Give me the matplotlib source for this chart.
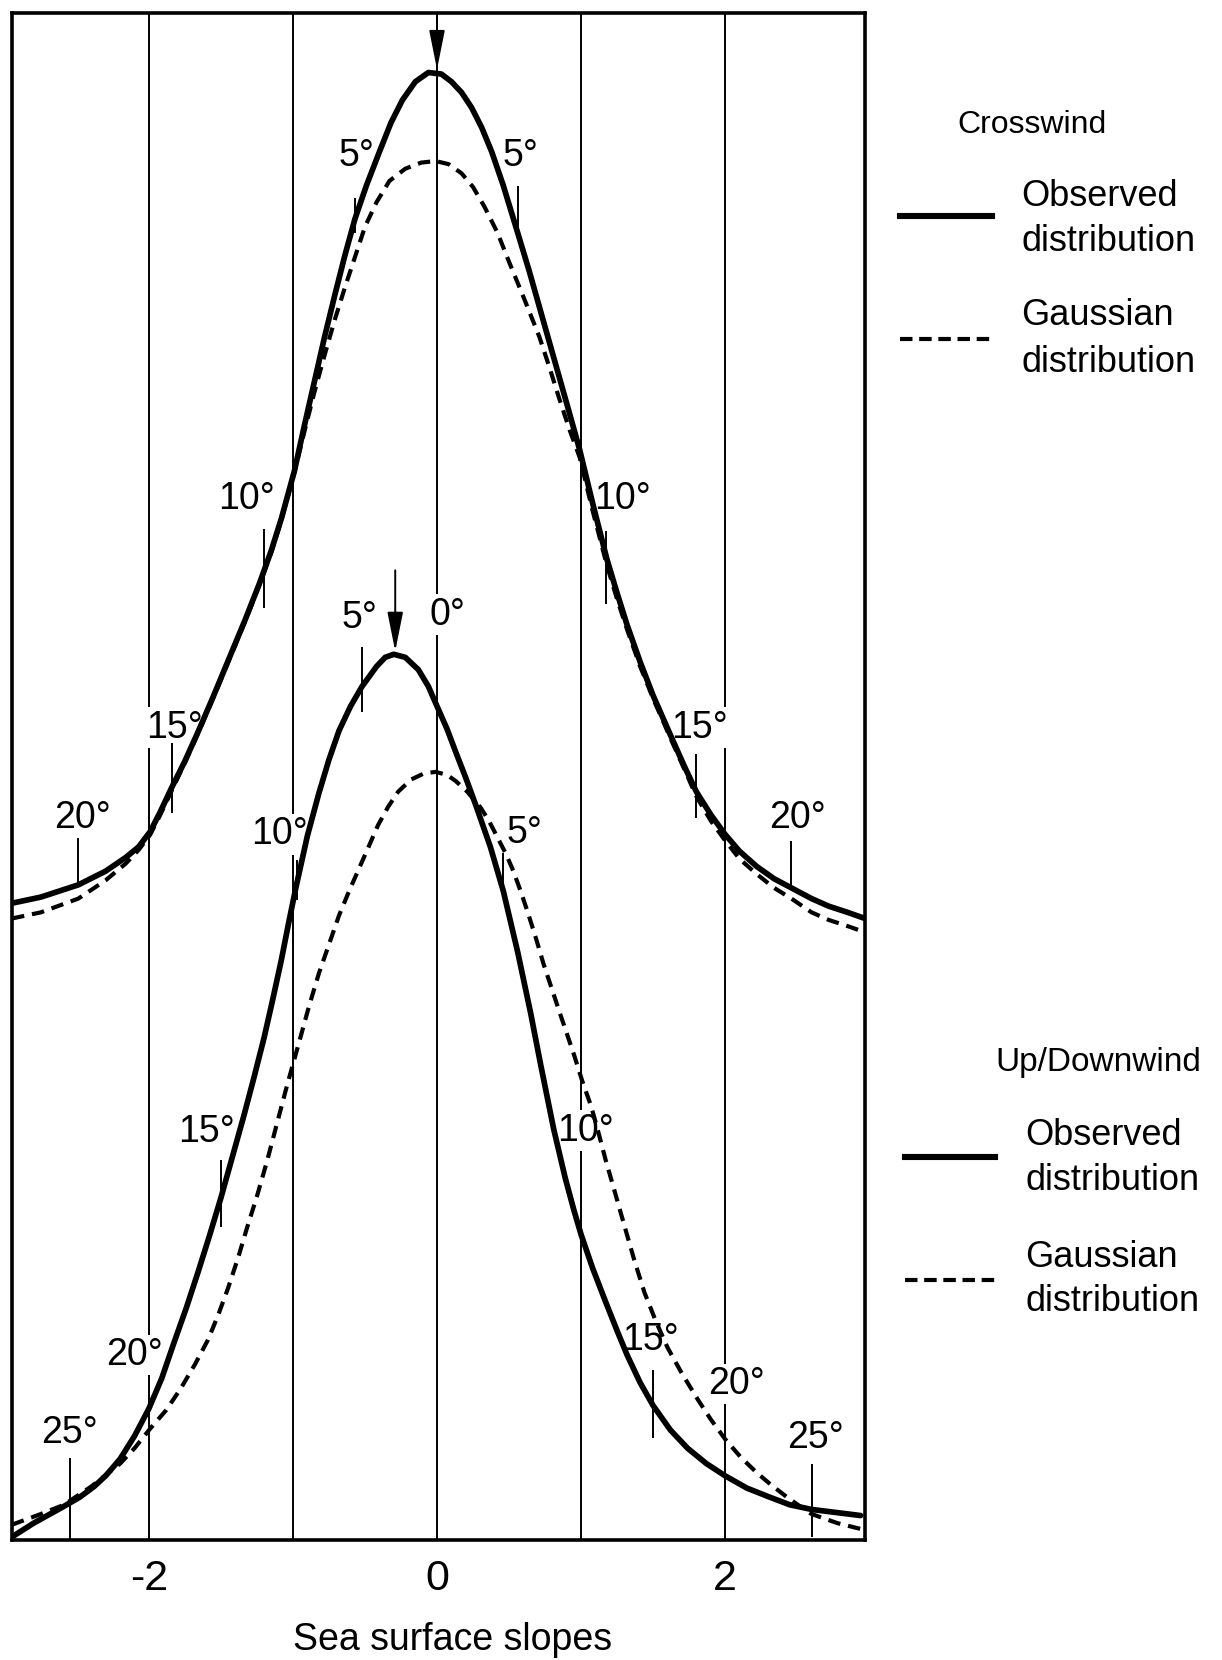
import matplotlib
matplotlib.use("Agg")
import matplotlib.pyplot as plt
from matplotlib.lines import Line2D

plt.rcParams['font.family'] = ['Liberation Sans', 'DejaVu Sans']

# values: x = sea surface slope, y = relative height (0-100)
cw_obs_x = [-2.95, -2.75, -2.49, -2.30, -2.16, -2.07, -1.99, -1.92, -1.84, -1.75, -1.65, -1.55,
            -1.44, -1.33, -1.23, -1.15, -1.08, -0.99, -0.92, -0.85, -0.78, -0.71, -0.64, -0.57,
            -0.49, -0.40, -0.32, -0.24, -0.15, -0.06, 0.03, 0.10, 0.17, 0.24, 0.31, 0.38, 0.46,
            0.56, 0.64, 0.73, 0.82, 0.91, 0.99, 1.08, 1.18, 1.25, 1.32, 1.41, 1.50, 1.63, 1.72,
            1.80, 1.90, 2.00, 2.10, 2.22, 2.34, 2.46, 2.60, 2.72, 2.85, 2.97]
cw_obs_y = [41.7, 42.1, 42.9, 43.8, 44.7, 45.4, 46.4, 47.7, 49.3, 51.0, 53.1, 55.3,
            57.8, 60.3, 62.7, 64.8, 66.9, 70.0, 73.0, 75.9, 78.8, 81.5, 84.1, 86.5,
            88.7, 90.9, 92.8, 94.3, 95.5, 96.1, 96.0, 95.5, 94.8, 93.8, 92.5, 90.9, 88.7,
            85.6, 83.1, 80.1, 77.1, 74.1, 71.4, 67.9, 64.2, 62.0, 59.9, 57.5, 55.3, 52.5, 50.6,
            49.0, 47.5, 46.2, 45.1, 44.1, 43.3, 42.7, 42.0, 41.5, 41.1, 40.7]

cw_gauss_x = [-2.95, -2.75, -2.49, -2.30, -2.16, -2.07, -1.99, -1.92, -1.84, -1.75, -1.65, -1.55,
              -1.44, -1.33, -1.23, -1.15, -1.08, -0.99, -0.92, -0.85, -0.78, -0.71, -0.64, -0.57,
              -0.50, -0.42, -0.33, -0.22, -0.11, -0.01, 0.08, 0.17, 0.25, 0.33, 0.42, 0.50, 0.60,
              0.71, 0.78, 0.85, 0.92, 0.99, 1.08, 1.18, 1.25, 1.32, 1.41, 1.50, 1.63, 1.72, 1.80,
              1.90, 2.00, 2.10, 2.22, 2.34, 2.46, 2.60, 2.72, 2.85, 2.97]
cw_gauss_y = [40.7, 41.1, 42.0, 43.2, 44.3, 45.2, 46.2, 47.5, 49.1, 50.9, 53.0, 55.2,
              57.7, 60.2, 62.6, 64.7, 66.8, 69.9, 72.6, 75.2, 77.6, 79.9, 82.0, 84.0,
              86.0, 87.6, 89.0, 89.8, 90.2, 90.3, 90.1, 89.5, 88.6, 87.3, 85.6, 83.7, 81.4,
              78.8, 76.8, 74.7, 72.7, 70.9, 67.4, 63.8, 61.6, 59.6, 57.2, 55.1, 52.3, 50.4, 48.7,
              47.1, 45.8, 44.6, 43.6, 42.7, 42.0, 41.1, 40.6, 40.2, 39.8]

uw_obs_x = [-2.95, -2.80, -2.59, -2.48, -2.38, -2.30, -2.20, -2.10, -2.00, -1.91, -1.83, -1.74,
            -1.66, -1.58, -1.50, -1.42, -1.34, -1.27, -1.20, -1.14, -1.08, -1.03, -0.98, -0.90,
            -0.82, -0.75, -0.68, -0.60, -0.52, -0.42, -0.36, -0.30, -0.22, -0.13, -0.06, 0.00,
            0.07, 0.13, 0.20, 0.27, 0.37, 0.46, 0.56, 0.65, 0.72, 0.81, 0.89, 0.95, 1.00, 1.08,
            1.17, 1.25, 1.32, 1.41, 1.50, 1.62, 1.74, 1.87, 2.00, 2.15, 2.31, 2.45, 2.60, 2.77,
            2.94]
uw_obs_y = [0.2, 1.1, 2.2, 2.8, 3.5, 4.2, 5.3, 6.8, 8.6, 10.6, 12.8, 15.2,
            17.5, 19.9, 22.4, 25.1, 27.8, 30.3, 32.9, 35.4, 38.0, 40.4, 42.7, 46.1,
            48.9, 51.1, 53.0, 54.6, 55.9, 57.2, 57.8, 58.0, 57.8, 57.0, 55.9, 54.6,
            53.1, 51.6, 49.9, 48.1, 45.4, 42.5, 38.5, 34.5, 31.1, 26.9, 23.7, 21.6, 20.0, 17.8,
            15.6, 13.7, 12.1, 10.3, 8.8, 7.2, 6.0, 5.0, 4.2, 3.4, 2.8, 2.3, 2.0, 1.8,
            1.6]

uw_gauss_x = [-2.95, -2.75, -2.59, -2.40, -2.20, -2.10, -1.99, -1.88, -1.78, -1.68, -1.59, -1.52,
              -1.45, -1.38, -1.32, -1.25, -1.18, -1.11, -1.04, -0.96, -0.89, -0.82, -0.75, -0.68,
              -0.61, -0.54, -0.47, -0.41, -0.34, -0.27, -0.18, -0.09, -0.01, 0.07, 0.13, 0.21,
              0.30, 0.36, 0.42, 0.48, 0.53, 0.58, 0.63, 0.69, 0.74, 0.80, 0.86, 0.95, 1.01, 1.07,
              1.12, 1.17, 1.24, 1.30, 1.37, 1.44, 1.52, 1.60, 1.70, 1.81, 1.90, 2.00, 2.11, 2.22,
              2.32, 2.43, 2.52, 2.60, 2.78, 2.95]
uw_gauss_y = [1.0, 1.7, 2.3, 3.5, 5.0, 6.0, 7.3, 8.5, 9.9, 11.5, 13.1, 14.7,
              16.5, 18.5, 20.4, 22.5, 24.8, 27.3, 29.8, 32.5, 34.9, 37.1, 39.0, 40.9,
              42.5, 44.0, 45.5, 46.8, 48.0, 49.0, 49.8, 50.2, 50.3, 50.1, 49.7, 49.0,
              48.0, 47.1, 46.0, 44.9, 43.8, 42.5, 41.1, 39.3, 37.7, 36.0, 34.3, 31.8, 30.0, 28.4,
              26.7, 24.9, 22.6, 20.6, 18.3, 16.2, 14.3, 12.6, 10.9, 9.2, 7.9, 6.6, 5.4, 4.4,
              3.6, 2.8, 2.2, 1.7, 1.1, 0.7]

# slope-angle markers
cw_deg = ['5°', '5°', '10°', '10°', '15°', '15°', '20°', '20°']
cw_deg_x = [-0.56, 0.58, -1.32, 1.29, -1.82, 1.82, -2.46, 2.50]
cw_deg_y = [90.6, 90.6, 68.2, 68.2, 53.2, 53.2, 47.3, 47.3]
cw_tick_x = [-0.57, 0.56, -1.20, 1.17, -1.84, 1.80, -2.49, 2.46]
cw_tick_lo = [85.6, 85.1, 61.0, 61.3, 47.6, 47.3, 42.8, 42.8]
cw_tick_hi = [87.9, 88.7, 66.2, 66.1, 52.2, 51.5, 46.0, 45.8]

uw_deg = ['5°', '0°', '10°', '5°', '15°', '10°', '20°', '15°', '25°', '20°', '25°']
uw_deg_x = [-0.54, 0.07, -1.09, 0.61, -1.60, 1.03, -2.10, 1.48, -2.55, 2.08, 2.63]
uw_deg_y = [60.4, 60.6, 46.2, 46.3, 26.7, 26.8, 12.1, 13.1, 7.0, 10.2, 6.7]
uw_tick_x = [-0.52, -0.97, 0.46, -1.50, 1.50, -2.55, 2.60]
uw_tick_lo = [54.2, 41.9, 42.4, 20.5, 6.7, 0.0, 0.2]
uw_tick_hi = [58.5, 44.5, 45.0, 24.9, 11.1, 5.4, 5.0]

# peak arrows (x, from y, to y)
arrows = [(0.0, 100.0, 96.3), (-0.29, 63.5, 58.2)]

grid_x = [-2, -1, 0, 1, 2]
tick_pos = [-2, 0, 2]
tick_lab = ['-2', '0', '2']

fig = plt.figure(figsize=(12.22, 16.6), dpi=100)
ax = fig.add_axes([0.0098, 0.0723, 0.698, 0.9199])

for gx in grid_x:
    ax.axvline(gx, color='black', lw=1.4, zorder=1)

solid = dict(color='black', lw=4.1, zorder=3, solid_joinstyle='round', solid_capstyle='round')
dashed = dict(color='black', lw=3.0, zorder=3, ls=(0, (3.0, 1.9)))
ax.plot(cw_obs_x, cw_obs_y, **solid)
ax.plot(cw_gauss_x, cw_gauss_y, **dashed)
ax.plot(uw_obs_x, uw_obs_y, **solid)
ax.plot(uw_gauss_x, uw_gauss_y, **dashed)

box = dict(facecolor='white', edgecolor='none', pad=1.5)
for lab, x, y in zip(cw_deg + uw_deg, cw_deg_x + uw_deg_x, cw_deg_y + uw_deg_y):
    ax.text(x, y, lab, ha='center', va='center', fontsize=27, zorder=2, bbox=box)

ax.vlines(cw_tick_x + uw_tick_x, cw_tick_lo + uw_tick_lo, cw_tick_hi + uw_tick_hi,
          color='black', lw=1.4, zorder=3)

for x, y0, y1 in arrows:
    ax.annotate('', xy=(x, y1), xytext=(x, y0),
                arrowprops=dict(arrowstyle='-|>,head_length=1.1,head_width=0.22', color='black',
                                lw=1.4, shrinkA=0, shrinkB=0, mutation_scale=22), zorder=4)

ax.set_xlim(-2.95, 2.97)
ax.set_ylim(0, 100)
ax.set_yticks([])
ax.set_xticks(tick_pos)
ax.set_xticklabels(tick_lab, fontsize=31)
ax.tick_params(axis='x', length=0, pad=14)
for sp in ax.spines.values():
    sp.set_linewidth(2.6)
ax.set_xlabel('Sea surface slopes', fontsize=27)
ax.xaxis.set_label_coords(0.516, -0.054)

# legend blocks drawn in figure coordinates
fig.text(0.8445, 0.9247, 'Crosswind', ha='center', va='center', fontsize=23)
fig.text(0.8985, 0.3602, 'Up/Downwind', ha='center', va='center', fontsize=24)
legend_rows = [
    (0.7365, 0.8118, 0.8699, '-', 0.836, 0.8819, 0.8548, 'Observed'),
    (0.7365, 0.8142, 0.7958, '--', 0.836, 0.8102, 0.7819, 'Gaussian'),
    (0.7406, 0.8142, 0.3030, '-', 0.8388, 0.3157, 0.2886, 'Observed'),
    (0.7406, 0.8142, 0.2289, '--', 0.8388, 0.2422, 0.2157, 'Gaussian'),
]
for x0, x1, ly, style, tx, ty1, ty2, name in legend_rows:
    if style == '-':
        fig.add_artist(Line2D([x0, x1], [ly, ly], transform=fig.transFigure, color='black', lw=4.4))
    else:
        fig.add_artist(Line2D([x0, x1], [ly, ly], transform=fig.transFigure, color='black', lw=3.0,
                              ls=(0, (3.0, 1.6))))
    fig.text(tx, ty1, name, ha='left', va='center', fontsize=26)
    fig.text(tx, ty2, 'distribution', ha='left', va='center', fontsize=26)

fig.savefig('out.png', dpi=100, facecolor='white')
